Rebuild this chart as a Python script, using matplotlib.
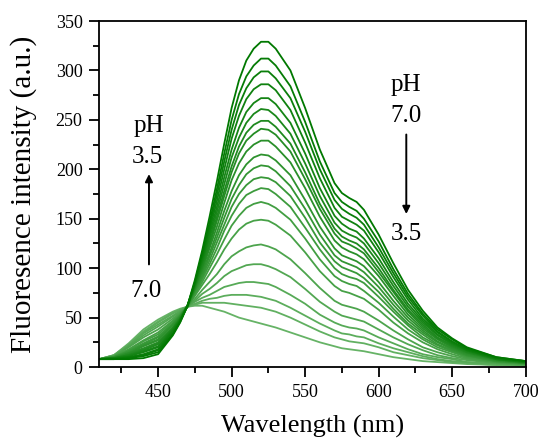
import numpy as np
import matplotlib
matplotlib.use("Agg")
from matplotlib import pyplot as plt
from matplotlib.ticker import MultipleLocator

# wavelength grid (nm)
wavelength = [410, 420, 430, 440, 450, 460, 465, 470, 475, 480, 485, 490, 495, 500,
              505, 510, 515, 520, 525, 530, 540, 550, 560, 570, 575, 580, 585, 590,
              600, 610, 620, 630, 640, 650, 660, 680, 700]

# emission spectra, top (pH 3.5) to bottom (pH 7.0)
curve_01 = [8, 8, 8, 9, 13, 32, 45, 62, 88, 118, 152, 188, 226, 262, 290, 310, 322, 329, 329, 322, 300, 262, 220, 186, 176, 171, 167, 159, 134, 105, 78, 57, 40, 29, 20, 10, 6]
curve_02 = [8, 8, 9, 11, 15, 33, 46, 62, 86, 115, 146, 180, 216, 250, 276, 294, 305, 312, 312, 305, 284, 248, 208, 176, 167, 162, 158, 150, 127, 99, 74, 54, 38, 28, 19, 10, 6]
curve_03 = [8, 8, 10, 12, 17, 34, 46, 62, 85, 112, 142, 174, 208, 240, 265, 282, 293, 299, 299, 292, 272, 238, 200, 169, 160, 155, 151, 144, 121, 95, 71, 52, 36, 26, 18, 9, 6]
curve_04 = [8, 9, 10, 13, 18, 36, 47, 62, 84, 110, 138, 168, 200, 231, 254, 271, 281, 286, 286, 280, 260, 227, 191, 161, 152, 148, 144, 138, 116, 91, 68, 49, 35, 25, 17, 9, 5]
curve_05 = [8, 9, 11, 15, 20, 37, 48, 62, 83, 107, 134, 162, 192, 220, 242, 258, 267, 272, 272, 266, 247, 216, 181, 153, 145, 140, 137, 130, 110, 86, 64, 47, 33, 24, 17, 8, 5]
curve_06 = [8, 9, 12, 16, 21, 38, 48, 62, 82, 105, 130, 157, 185, 212, 232, 247, 256, 261, 260, 254, 236, 206, 173, 146, 138, 134, 131, 125, 105, 82, 61, 45, 32, 23, 16, 8, 5]
curve_07 = [8, 9, 12, 17, 23, 39, 49, 62, 81, 102, 126, 152, 178, 203, 223, 237, 245, 249, 249, 243, 226, 197, 165, 140, 132, 128, 125, 119, 100, 78, 58, 43, 30, 22, 15, 8, 5]
curve_08 = [8, 9, 13, 18, 24, 39, 49, 62, 80, 101, 123, 148, 173, 197, 216, 229, 236, 241, 240, 235, 218, 190, 160, 135, 127, 124, 120, 115, 96, 76, 56, 41, 29, 21, 15, 8, 4]
curve_09 = [8, 9, 14, 19, 25, 40, 50, 62, 79, 98, 120, 142, 166, 189, 206, 218, 225, 229, 229, 223, 207, 181, 152, 128, 121, 117, 114, 109, 92, 72, 53, 39, 28, 20, 14, 7, 4]
curve_10 = [8, 10, 14, 21, 27, 42, 51, 62, 78, 96, 115, 136, 158, 178, 194, 205, 212, 215, 214, 209, 194, 169, 142, 120, 113, 110, 107, 102, 86, 67, 50, 37, 26, 19, 13, 7, 4]
curve_11 = [8, 10, 15, 22, 28, 43, 51, 62, 77, 93, 112, 131, 151, 170, 184, 195, 201, 204, 203, 198, 183, 160, 134, 113, 107, 104, 101, 96, 81, 63, 47, 35, 25, 18, 12, 6, 4]
curve_12 = [8, 10, 16, 23, 30, 44, 52, 61, 76, 91, 108, 126, 144, 162, 175, 184, 190, 192, 191, 187, 173, 151, 126, 107, 101, 98, 95, 90, 76, 59, 44, 33, 23, 17, 12, 6, 4]
curve_13 = [8, 10, 16, 24, 31, 44, 52, 61, 74, 89, 104, 120, 138, 153, 165, 174, 178, 181, 180, 175, 162, 141, 119, 100, 94, 91, 89, 85, 71, 56, 42, 30, 22, 16, 11, 6, 3]
curve_14 = [8, 10, 17, 26, 33, 46, 53, 61, 73, 86, 100, 114, 129, 143, 153, 161, 165, 167, 165, 161, 149, 130, 109, 92, 87, 84, 82, 77, 65, 51, 38, 28, 20, 15, 10, 5, 3]
curve_15 = [8, 11, 18, 27, 35, 47, 54, 61, 72, 83, 94, 106, 119, 130, 139, 145, 148, 149, 148, 144, 133, 116, 97, 82, 77, 75, 72, 69, 58, 45, 34, 25, 18, 13, 9, 5, 3]
curve_16 = [8, 11, 20, 30, 38, 49, 55, 61, 69, 78, 86, 94, 104, 112, 117, 121, 123, 124, 122, 119, 109, 95, 80, 67, 63, 61, 59, 56, 47, 37, 28, 20, 15, 11, 8, 4, 2]
curve_17 = [8, 11, 21, 32, 41, 51, 56, 61, 67, 74, 79, 85, 92, 97, 100, 103, 104, 104, 102, 99, 91, 79, 66, 56, 52, 50, 48, 46, 38, 30, 23, 17, 12, 9, 7, 4, 2]
curve_18 = [8, 11, 22, 34, 43, 52, 57, 61, 66, 70, 73, 77, 81, 83, 85, 86, 86, 85, 84, 81, 73, 64, 53, 45, 42, 40, 39, 37, 30, 24, 18, 13, 10, 8, 5, 3, 2]
curve_19 = [8, 12, 22, 35, 45, 54, 58, 61, 64, 67, 69, 70, 72, 73, 73, 73, 72, 71, 69, 67, 60, 52, 44, 37, 34, 33, 31, 30, 24, 19, 15, 11, 8, 6, 5, 3, 2]
curve_20 = [8, 12, 23, 36, 46, 55, 58, 61, 63, 65, 65, 65, 65, 64, 63, 62, 61, 60, 58, 56, 50, 43, 36, 30, 28, 26, 25, 24, 20, 15, 12, 9, 7, 5, 4, 2, 1]
curve_21 = [8, 12, 24, 38, 48, 56, 59, 61, 62, 62, 60, 58, 56, 53, 50, 48, 46, 44, 42, 40, 35, 30, 25, 21, 19, 18, 17, 16, 13, 10, 8, 6, 5, 4, 3, 2, 1]

curves = [curve_01, curve_02, curve_03, curve_04, curve_05, curve_06, curve_07,
          curve_08, curve_09, curve_10, curve_11, curve_12, curve_13, curve_14,
          curve_15, curve_16, curve_17, curve_18, curve_19, curve_20, curve_21]

plt.rcParams.update({
    "font.family": "serif",
    "font.serif": ["Liberation Serif", "DejaVu Serif"],
})

fig = plt.figure(figsize=(5.41, 4.38), dpi=100)
ax = fig.add_axes([0.1835, 0.162, 0.7882, 0.79])

dark = np.array([0.0, 0.47, 0.0])
light = np.array([0.40, 0.70, 0.40])
n = len(curves)
# draw light (high pH) first so the dark ones sit on top
for i in range(n - 1, -1, -1):
    t = i / (n - 1)
    col = dark * (1 - t) + light * t
    ax.plot(wavelength, curves[i], color=col, lw=1.3, solid_joinstyle="round")

ax.set_xlim(410, 700)
ax.set_ylim(0, 350)
ax.xaxis.set_major_locator(MultipleLocator(50))
ax.xaxis.set_minor_locator(MultipleLocator(25))
ax.yaxis.set_major_locator(MultipleLocator(50))
ax.yaxis.set_minor_locator(MultipleLocator(25))
ax.tick_params(which="both", direction="out", top=False, right=False, width=1.3,
               labelsize=13, pad=5)
ax.tick_params(which="major", length=7)
ax.tick_params(which="minor", length=4.5)
for s in ax.spines.values():
    s.set_linewidth(1.3)

ax.set_xlabel("Wavelength (nm)", fontsize=19, labelpad=10)
ax.set_ylabel("Fluoresence intensity (a.u.)", fontsize=21)
ax.yaxis.set_label_coords(-0.145, 0.5)

# pH annotations
ax.text(443.8, 238, "pH", fontsize=18, ha="center", va="baseline")
ax.text(442.5, 206, "3.5", fontsize=18, ha="center", va="baseline")
ax.text(441.8, 71, "7.0", fontsize=18, ha="center", va="baseline")
ax.annotate("", xy=(443.8, 198), xytext=(443.8, 101),
            arrowprops=dict(arrowstyle="-|>", color="black", lw=1.4, mutation_scale=11))

ax.text(618.8, 279, "pH", fontsize=18, ha="center", va="baseline")
ax.text(618.8, 248, "7.0", fontsize=18, ha="center", va="baseline")
ax.text(618.8, 128, "3.5", fontsize=18, ha="center", va="baseline")
ax.annotate("", xy=(618.8, 152), xytext=(618.8, 238),
            arrowprops=dict(arrowstyle="-|>", color="black", lw=1.4, mutation_scale=11))

fig.savefig("out.png", dpi=100)
